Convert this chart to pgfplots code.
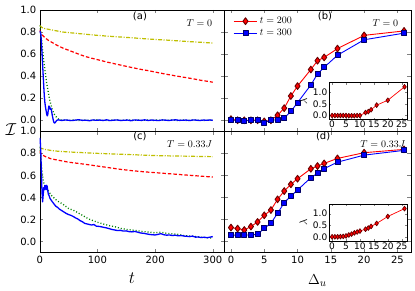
\documentclass[border=0pt]{standalone}
\usepackage{fontspec}
\setmainfont{DejaVu Sans}
\usepackage{pgfplots}
\pgfplotsset{compat=1.18}
\definecolor{myY}{RGB}{191,191,0}
\definecolor{myG}{RGB}{0,128,0}
\definecolor{myR}{RGB}{255,0,0}
\definecolor{myB}{RGB}{0,0,255}
\begin{document}
\begin{tikzpicture}
\useasboundingbox (0pt,0pt) rectangle (415pt,-291pt);
\pgfplotsset{
 every axis/.append style={scale only axis, tick align=inside, major tick length=3.5pt,
   font=\fontsize{10}{12}\selectfont, /pgf/number format/assume math mode=true,
   every axis plot/.append style={line join=round}},
 lpanel/.style={width=184.6pt, height=121.3pt, xmin=0, xmax=320, ymin=-0.1, ymax=1.0,
   xtick={0,100,200,300}, ytick={0,0.2,0.4,0.6,0.8,1.0},
   yticklabel style={/pgf/number format/fixed, /pgf/number format/fixed zerofill, /pgf/number format/precision=1}},
 rpanel/.style={width=186.4pt, height=121.3pt, xmin=-1, xmax=27, ymin=-0.1, ymax=1.0,
   xtick={0,5,10,15,20,25}, ytick={0,0.2,0.4,0.6,0.8,1.0}, yticklabels={}},
 inset/.style={width=78pt, height=37pt, xmin=-1, xmax=27, ymin=-0.18, ymax=1.42,
   xtick={0,5,10,15,20,25}, ytick={0,0.5,1.0}, major tick length=2pt,
   axis background/.style={fill=white},
   tick label style={font=\fontsize{9}{10}\selectfont},
   yticklabel style={xshift=1.5pt, /pgf/number format/fixed, /pgf/number format/fixed zerofill, /pgf/number format/precision=1},
   xticklabel style={yshift=2pt},
   ylabel={$\lambda$}, ylabel style={font=\fontsize{11}{12}\selectfont, yshift=-1pt}},
 yl/.style={myY, line width=1.2pt, dash pattern=on 4pt off 1.5pt on 1pt off 1.5pt},
 rl/.style={myR, line width=1.2pt, dash pattern=on 3.5pt off 2pt},
 gl/.style={myG, line width=1.3pt, dash pattern=on 1pt off 2pt},
 bl/.style={myB, line width=1.3pt},
 rm/.style={myR, line width=0.9pt, mark=diamond*, mark size=3.4pt, mark options={solid, fill=myR, draw=black!60!red}},
 bm/.style={myB, line width=0.9pt, mark=square*, mark size=2.5pt, mark options={solid, fill=myB, draw=black!60!blue}},
}
% ---------- (a)
\begin{axis}[lpanel, at={(39.7pt,-10pt)}, anchor=north west, xticklabels={}]
\addplot[yl] coordinates {(0,0.86)(3,0.845)(6,0.835)(10,0.83)(15,0.825)(20,0.82)(30,0.81)(40,0.80)(50,0.795)(60,0.79)(80,0.78)(100,0.77)(120,0.762)(140,0.755)(160,0.748)(180,0.74)(200,0.733)(220,0.727)(240,0.72)(260,0.713)(280,0.707)(300,0.70)};
\addplot[rl] coordinates {(0,0.82)(2,0.79)(5,0.77)(10,0.745)(15,0.725)(20,0.71)(30,0.68)(40,0.655)(50,0.635)(60,0.615)(70,0.595)(80,0.577)(90,0.563)(100,0.55)(115,0.53)(130,0.512)(145,0.495)(160,0.478)(175,0.462)(190,0.448)(205,0.432)(220,0.417)(235,0.403)(250,0.39)(265,0.377)(280,0.362)(295,0.35)(300,0.345)};
\addplot[gl] coordinates {(0,0.86)(1,0.83)(2,0.79)(3,0.74)(4,0.69)(5,0.64)(6,0.59)(7,0.54)(8,0.50)(9,0.46)(10,0.42)(11,0.38)(12,0.34)(13,0.31)(14,0.28)(15,0.25)(16,0.22)(17,0.195)(18,0.17)(19,0.15)(20,0.13)(22,0.095)(24,0.07)(26,0.05)(28,0.035)(30,0.022)(33,0.01)(36,0.004)(40,0.0)(46,0.003)(52,-0.002)(58,0.002)(64,0.0)(70,-0.003)(76,0.003)(82,0.001)(88,-0.002)(94,0.002)(100,0.004)(106,-0.001)(112,0.001)(118,-0.003)(124,0.002)(130,0.0)(136,0.003)(142,-0.002)(148,0.001)(154,0.004)(160,-0.001)(166,0.0)(172,0.002)(178,-0.003)(184,0.003)(190,0.001)(196,-0.002)(202,0.002)(208,0.0)(214,0.004)(220,-0.002)(226,0.001)(232,0.003)(238,-0.002)(244,0.0)(250,0.002)(256,-0.003)(262,0.002)(268,0.004)(274,-0.001)(280,0.001)(286,-0.003)(292,0.002)(300,0.0)};
\addplot[bl] coordinates {(0,0.81)(1,0.80)(2,0.78)(3,0.70)(4,0.61)(5,0.51)(6,0.41)(7,0.31)(8,0.22)(9,0.16)(10,0.12)(11,0.09)(12,0.06)(13,0.04)(14,0.05)(15,0.10)(16,0.13)(17,0.12)(18,0.10)(19,0.11)(20,0.10)(21,0.07)(22,0.04)(23,0.015)(24,-0.01)(25,-0.022)(26,-0.025)(27,-0.02)(28,-0.012)(29,-0.005)(30,0.0)(32,0.004)(38,-0.002)(44,0.003)(50,0.0)(56,-0.003)(62,0.002)(68,0.005)(74,-0.001)(80,0.001)(86,-0.004)(92,0.003)(98,0.0)(104,0.002)(110,-0.002)(116,0.004)(122,-0.003)(128,0.001)(134,0.003)(140,-0.002)(146,0.0)(152,0.002)(158,-0.004)(164,0.003)(170,0.001)(176,-0.001)(182,0.004)(188,-0.002)(194,0.002)(200,0.0)(206,-0.003)(212,0.003)(218,0.001)(224,-0.002)(230,0.002)(236,0.004)(242,-0.001)(248,0.0)(254,0.002)(260,-0.003)(266,0.003)(272,0.001)(278,-0.002)(284,0.002)(290,0.0)(296,0.003)(300,-0.001)};
\node at (rel axis cs:0.543,0.95) {(a)};
\node[anchor=east] at (rel axis cs:0.953,0.895) {$T=0$};
\end{axis}
% ---------- (c)
\begin{axis}[lpanel, at={(39.7pt,-131.3pt)}, anchor=north west, xlabel={$t$},
  xlabel style={font=\fontsize{16}{18}\selectfont, yshift=-2pt}]
\addplot[yl] coordinates {(0,0.85)(5,0.842)(10,0.835)(20,0.826)(30,0.82)(45,0.815)(60,0.81)(80,0.805)(100,0.80)(125,0.795)(150,0.79)(175,0.785)(200,0.78)(225,0.777)(250,0.775)(275,0.772)(300,0.77)};
\addplot[rl] coordinates {(0,0.82)(2,0.80)(5,0.785)(10,0.77)(20,0.75)(35,0.735)(50,0.72)(65,0.71)(80,0.70)(100,0.685)(120,0.67)(140,0.655)(160,0.643)(180,0.633)(200,0.625)(225,0.615)(250,0.605)(275,0.595)(300,0.585)};
\addplot[gl] coordinates {(0,0.86)(1,0.81)(2,0.76)(3,0.70)(4,0.64)(5,0.60)(6,0.56)(7,0.535)(8,0.52)(10,0.50)(12,0.485)(15,0.46)(20,0.42)(25,0.395)(30,0.37)(35,0.355)(40,0.34)(45,0.32)(50,0.30)(55,0.29)(60,0.28)(65,0.265)(70,0.25)(75,0.235)(80,0.22)(85,0.205)(90,0.195)(95,0.185)(100,0.175)(110,0.16)(120,0.145)(130,0.135)(140,0.12)(150,0.11)(160,0.105)(170,0.098)(180,0.09)(190,0.085)(200,0.08)(210,0.085)(220,0.075)(230,0.07)(240,0.065)(250,0.055)(260,0.05)(270,0.045)(280,0.04)(290,0.035)(300,0.03)};
\addplot[bl] coordinates {(0,0.94)(1,0.91)(2,0.80)(3,0.62)(4,0.45)(5,0.36)(6,0.42)(7,0.49)(8,0.47)(9,0.51)(10,0.49)(11,0.47)(12,0.51)(13,0.50)(14,0.46)(15,0.43)(16,0.42)(18,0.39)(20,0.375)(22,0.36)(25,0.34)(28,0.32)(31,0.31)(34,0.295)(37,0.285)(40,0.275)(43,0.265)(46,0.255)(50,0.245)(54,0.238)(58,0.228)(62,0.215)(66,0.205)(70,0.19)(74,0.18)(78,0.165)(82,0.16)(86,0.155)(90,0.15)(94,0.155)(98,0.14)(102,0.138)(106,0.135)(110,0.13)(115,0.125)(120,0.118)(125,0.11)(130,0.105)(135,0.10)(140,0.102)(145,0.095)(150,0.097)(155,0.09)(160,0.088)(165,0.092)(170,0.085)(175,0.078)(180,0.075)(185,0.07)(190,0.065)(195,0.062)(200,0.06)(205,0.065)(210,0.072)(215,0.062)(220,0.058)(225,0.06)(230,0.055)(235,0.058)(240,0.052)(245,0.055)(250,0.05)(255,0.048)(260,0.045)(265,0.05)(270,0.04)(275,0.042)(280,0.036)(285,0.04)(290,0.035)(295,0.04)(300,0.045)};
\node at (rel axis cs:0.543,0.955) {(c)};
\node[anchor=east] at (rel axis cs:0.953,0.895) {$T=0.33J$};
\end{axis}
% ---------- (b)
\begin{axis}[rpanel, at={(224.3pt,-10pt)}, anchor=north west, xticklabels={},
  legend style={draw=none, fill=none, at={(0.03,0.975)}, anchor=north west,
    font=\fontsize{10}{12}\selectfont, row sep=0pt},
  legend cell align=left,
  legend image code/.code={\draw[mark repeat=2,mark phase=2,#1] plot coordinates {(0cm,0cm) (0.42cm,0cm) (0.84cm,0cm)};}]
\addplot[rm] coordinates {(0,0.01)(1,0.0)(2,0.0)(3,0.0)(4,0.0)(5,-0.01)(6,0.0)(7,0.045)(8,0.11)(9,0.22)(10,0.31)(12,0.46)(13,0.54)(14,0.57)(16,0.65)(20,0.77)(26,0.81)};
\addlegendentry{$t=200$}
\addplot[bm] coordinates {(0,0.0)(1,0.0)(2,-0.005)(3,0.0)(4,0.0)(5,-0.02)(6,0.0)(7,0.005)(8,0.02)(9,0.08)(10,0.16)(12,0.32)(13,0.42)(14,0.48)(16,0.59)(20,0.73)(26,0.79)};
\addlegendentry{$t=300$}
\node at (rel axis cs:0.54,0.95) {(b)};
\node[anchor=east] at (rel axis cs:0.952,0.895) {$T=0$};
\end{axis}
% ---------- (d)
\begin{axis}[rpanel, at={(224.3pt,-131.3pt)}, anchor=north west, xlabel={$\Delta_u$},
  xlabel style={font=\fontsize{15}{18}\selectfont, yshift=-4pt}]
\addplot[rm] coordinates {(0,0.127)(1,0.118)(2,0.105)(3,0.136)(4,0.178)(5,0.238)(6,0.286)(7,0.383)(8,0.458)(9,0.519)(10,0.57)(12,0.66)(13,0.685)(14,0.709)(16,0.754)(20,0.806)(26,0.836)};
\addplot[bm] coordinates {(0,0.057)(1,0.06)(2,0.06)(3,0.06)(4,0.066)(5,0.12)(6,0.166)(7,0.256)(8,0.353)(9,0.413)(10,0.467)(12,0.58)(13,0.619)(14,0.661)(16,0.72)(20,0.784)(26,0.827)};
\node at (rel axis cs:0.53,0.955) {(d)};
\node[anchor=east] at (rel axis cs:0.99,0.895) {$T=0.33J$};
\end{axis}
% ---------- insets
\begin{axis}[inset, at={(329.3pt,-82.7pt)}, anchor=north west]
\addplot[rm, mark size=2.4pt, line width=0.7pt] coordinates {(0,0.0)(1,0.0)(2,0.0)(3,0.0)(4,0.0)(5,0.0)(6,-0.01)(7,-0.01)(8,-0.01)(9,0.0)(10,0.0)(12,0.13)(13,0.17)(14,0.25)(16,0.45)(20,0.66)(26,1.24)};
\end{axis}
\begin{axis}[inset, at={(329.3pt,-204pt)}, anchor=north west]
\addplot[rm, mark size=2.4pt, line width=0.7pt] coordinates {(0,0.0)(1,0.0)(2,0.0)(3,0.01)(4,0.02)(5,0.04)(6,0.08)(7,0.12)(8,0.17)(9,0.21)(10,0.25)(12,0.33)(13,0.38)(14,0.45)(16,0.58)(20,0.88)(26,1.22)};
\end{axis}
\node at (11pt,-130pt) {\fontsize{16}{18}\selectfont$\mathcal{I}$};
\end{tikzpicture}
\end{document}
